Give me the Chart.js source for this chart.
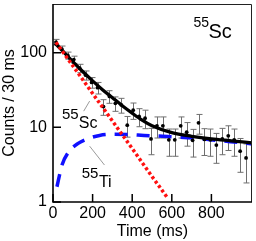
<!DOCTYPE html>
<html>
<head>
<meta charset="utf-8">
<script src="https://cdn.jsdelivr.net/npm/chart.js@4.4.0/dist/chart.umd.min.js"></script>
<style>
  html, body { margin: 0; padding: 0; background: #fff; }
</style>
</head>
<body>
<canvas id="decayChart" width="256" height="241"></canvas>
<script>
// counts per 30 ms bin
const binTimes  = [15, 45, 75, 105, 135, 165, 195, 225, 255, 285, 315, 345, 375, 405, 435, 465, 495,
                   525, 555, 585, 615, 645, 675, 705, 735, 765, 795, 825, 855, 885, 915, 945, 975];
const binCounts = [139, 112, 92, 81, 62, 50, 40, 34, 19, 26, 21, 20, 10.7, 17, 14, 13.3, 7,
                   10.5, 10.5, 6.8, 6.8, 10.5, 8.6, 6.7, 11.5, 6.9, 6.8, 5.8, 7, 7.7, 6.8, 4.8, 3.9];
const binErrors = [12, 11, 10, 9, 8, 7, 6.5, 6, 4.5, 5, 4.6, 4.5, 3.3, 4.2, 3.8, 3.7, 2.7,
                   3.3, 3.3, 2.7, 2.7, 3.3, 3, 2.7, 3.4, 2.7, 2.7, 2.5, 2.7, 2.8, 2.7, 2.3, 2.1];

// total fit (black)
const totalT = [10, 50, 100, 150, 200, 250, 300, 350, 400, 450, 500, 600, 700, 800, 900, 1005];
const totalY = [135, 105, 76, 56, 42, 32, 25, 19.5, 15.5, 12.5, 10.5, 8.5, 7.6, 7.0, 6.6, 6.2];

// 55Sc component (red dotted)
const scT = [15, 100, 200, 300, 400, 500, 580];
const scY = [138, 66.9, 28.5, 12.2, 5.2, 2.2, 1.12];

// 55Ti component (blue dashed)
const tiT = [20, 45, 77, 127, 185, 235, 310, 385, 460, 600, 710, 850, 960, 1005];
const tiY = [1.6, 3.1, 4.6, 6.1, 7.2, 7.8, 8.1, 8.0, 7.8, 7.5, 7.2, 6.6, 6.2, 6.0];

const xTicks = [0, 200, 400, 600, 800];
const yTicks = [1, 10, 100];

const FONT = "'Liberation Sans', Arial, sans-serif";

function pairs(xs, ys) {
    return xs.map((x, i) => ({ x: x, y: ys[i] }));
}

// error bars + frame + inside ticks
const decorPlugin = {
    id: 'decor',
    beforeDatasetsDraw(chart) {
        const ctx = chart.ctx;
        const xs = chart.scales.x, ys = chart.scales.y;
        ctx.save();
        ctx.strokeStyle = '#6f6f6f';
        ctx.lineWidth = 1;
        binTimes.forEach((t, i) => {
            const px = Math.round(xs.getPixelForValue(t)) + 0.5;
            const lo = Math.max(binCounts[i] - binErrors[i], 1);
            const yTop = ys.getPixelForValue(binCounts[i] + binErrors[i]);
            const yBot = ys.getPixelForValue(lo);
            ctx.beginPath();
            ctx.moveTo(px, yTop); ctx.lineTo(px, yBot);
            ctx.moveTo(px - 3, yTop); ctx.lineTo(px + 3, yTop);
            ctx.moveTo(px - 3, yBot); ctx.lineTo(px + 3, yBot);
            ctx.stroke();
        });
        ctx.restore();
    },
    afterDatasetsDraw(chart) {
        const ctx = chart.ctx;
        const a = chart.chartArea;
        const xs = chart.scales.x, ys = chart.scales.y;
        ctx.save();
        // top / right frame
        ctx.strokeStyle = '#222';
        ctx.lineWidth = 1;
        ctx.beginPath();
        ctx.moveTo(a.left, a.top + 0.5); ctx.lineTo(a.right - 0.5, a.top + 0.5);
        ctx.lineTo(a.right - 0.5, a.bottom);
        ctx.stroke();
        // axes
        ctx.strokeStyle = '#000';
        ctx.lineWidth = 1.6;
        ctx.beginPath();
        ctx.moveTo(a.left, a.top); ctx.lineTo(a.left, a.bottom); ctx.lineTo(a.right, a.bottom);
        ctx.stroke();
        // inside ticks
        ctx.lineWidth = 1.5;
        ctx.beginPath();
        xTicks.forEach(v => {
            const px = xs.getPixelForValue(v);
            ctx.moveTo(px, a.bottom); ctx.lineTo(px, a.bottom - 8);
        });
        yTicks.forEach(v => {
            const py = ys.getPixelForValue(v);
            ctx.moveTo(a.left, py); ctx.lineTo(a.left + 8, py);
        });
        ctx.stroke();

        // leader lines
        ctx.strokeStyle = '#808080';
        ctx.lineWidth = 0.8;
        ctx.beginPath();
        ctx.moveTo(xs.getPixelForValue(155), ys.getPixelForValue(16.5));
        ctx.lineTo(xs.getPixelForValue(185), ys.getPixelForValue(22.5));
        ctx.moveTo(xs.getPixelForValue(185), ys.getPixelForValue(5.6));
        ctx.lineTo(xs.getPixelForValue(260), ys.getPixelForValue(3.13));
        ctx.stroke();

        // isotope labels
        ctx.fillStyle = '#000';
        ctx.textBaseline = 'alphabetic';
        ctx.textAlign = 'left';
        const txt = (s, t, v, size) => {
            ctx.font = size + 'px ' + FONT;
            ctx.fillText(s, xs.getPixelForValue(t), ys.getPixelForValue(v));
        };
        txt('55', 45, 13.1, 15);
        txt('Sc', 130, 9.9, 16);
        txt('55', 145, 2.08, 15);
        txt('Ti', 232, 1.6, 16);
        txt('55', 710, 220, 14);
        txt('Sc', 785, 157, 20);
        ctx.restore();
    }
};

new Chart(document.getElementById('decayChart'), {
    type: 'scatter',
    data: {
        datasets: [
            {
                label: '55Sc',
                data: pairs(scT, scY),
                showLine: true,
                borderColor: '#ff1010',
                borderWidth: 3.5,
                borderDash: [3, 2.5],
                pointRadius: 0,
                order: 0
            },
            {
                label: 'fit',
                data: pairs(totalT, totalY),
                showLine: true,
                borderColor: '#000',
                borderWidth: 3.3,
                cubicInterpolationMode: 'monotone',
                pointRadius: 0,
                order: 1
            },
            {
                label: 'data',
                data: pairs(binTimes, binCounts),
                showLine: false,
                pointRadius: 1.9,
                pointBackgroundColor: '#000',
                pointBorderWidth: 0,
                order: 2
            },
            {
                label: '55Ti',
                data: pairs(tiT, tiY),
                showLine: true,
                borderColor: '#1010ff',
                borderWidth: 3.5,
                borderDash: [13, 9],
                cubicInterpolationMode: 'monotone',
                pointRadius: 0,
                order: 3
            }
        ]
    },
    options: {
        responsive: false,
        animation: false,
        events: [],
        layout: { padding: { top: 3, right: 2, left: 0, bottom: 0 } },
        plugins: {
            legend: { display: false },
            tooltip: { enabled: false }
        },
        scales: {
            x: {
                type: 'linear',
                min: 0,
                max: 1005,
                grid: { display: false, drawTicks: false },
                border: { display: false },
                afterBuildTicks: s => { s.ticks = xTicks.map(v => ({ value: v })); },
                afterFit: s => { s.height = 39; s.paddingLeft = 0; s.paddingRight = 0; },
                ticks: {
                    color: '#000',
                    padding: 2,
                    maxRotation: 0,
                    font: { family: FONT, size: 16 },
                    callback: v => String(v)
                },
                title: {
                    display: true,
                    text: 'Time (ms)',
                    color: '#000',
                    padding: 0,
                    font: { family: FONT, size: 16 }
                }
            },
            y: {
                type: 'logarithmic',
                min: 1,
                max: 450,
                grid: { display: false, drawTicks: false },
                border: { display: false },
                afterBuildTicks: s => { s.ticks = yTicks.map(v => ({ value: v })); },
                afterFit: s => { s.width = 53; s.paddingTop = 0; s.paddingBottom = 0; },
                ticks: {
                    color: '#000',
                    padding: 6,
                    font: { family: FONT, size: 16 },
                    callback: v => String(v)
                },
                title: {
                    display: true,
                    text: 'Counts / 30 ms',
                    color: '#000',
                    padding: 0,
                    font: { family: FONT, size: 16 }
                }
            }
        }
    },
    plugins: [decorPlugin]
});
</script>
</body>
</html>
